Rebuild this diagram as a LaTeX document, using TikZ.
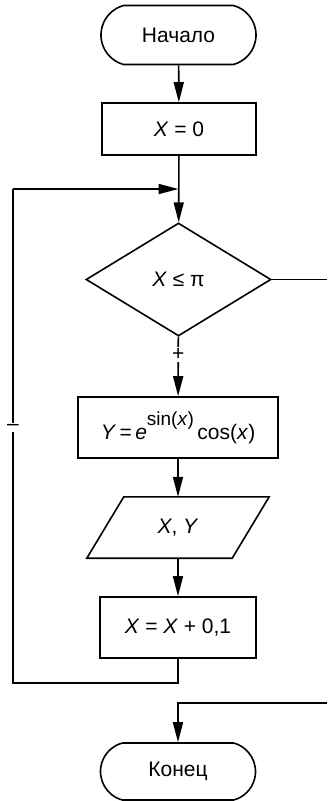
\documentclass[tikz,border=0pt]{standalone}
\usepackage{fontspec}
\setmainfont{Liberation Sans}
\usetikzlibrary{arrows.meta,shapes.geometric,shapes.misc,calc}
\begin{document}
\begin{tikzpicture}[x=1pt,y=-1pt,
  every node/.style={font=\fontsize{21}{25}\selectfont},
  line/.style={line width=1.6pt},
  arr/.style={line width=1.6pt, -{Triangle[length=20pt,width=10pt]}},
  term/.style={draw, line width=1.6pt, rounded rectangle, rounded rectangle arc length=150, minimum width=155pt, minimum height=59pt, inner sep=0pt},
  proc/.style={draw, line width=1.6pt, rectangle, inner sep=0pt},
  dec/.style={draw, line width=1.6pt, diamond, inner sep=0pt, minimum width=185pt, minimum height=113pt},
  lbl/.style={fill=white, inner sep=1.5pt}
]
\useasboundingbox (0,0) rectangle (327,801);

\node[term] (start) at (178.5,35) {Начало};
\node[proc, minimum width=154pt, minimum height=52pt] (x0) at (179,129) {\textit{X} = 0};
\node[dec] (cond) at (178.5,279.5) {\textit{X} ≤ π};
\node[proc, minimum width=200pt, minimum height=61pt] (ycalc) at (178,427.5)
  {\textit{Y}\,=\,\textit{e}\raisebox{14pt}{\fontsize{19}{22}\selectfont sin(\textit{x})}\,cos(\textit{x})};
\node[minimum width=145pt, minimum height=61pt, inner sep=0pt] (out) at (178,527.5) {\textit{X}, \textit{Y}};
\draw[line] ($(out.north west)+(18.5,0)$) -- ($(out.north east)+(18.5,0)$)
  -- ($(out.south east)+(-18.5,0)$) -- ($(out.south west)+(-18.5,0)$) -- cycle;
\node[proc, minimum width=156pt, minimum height=61pt] (inc) at (178,627.5) {\textit{X} = \textit{X} + 0,1};
\node[term, minimum height=57pt] (stop) at (178,771.5) {Конец};

\coordinate (join) at (178.5,189);
\coordinate (lb) at (178,683);
\coordinate (ll) at (13,683);
\coordinate (lt) at (13,189);
\coordinate (ro) at (327,279.5);
\coordinate (ri) at (327,703);
\coordinate (rj) at (178,703);

\draw[arr] (start) -- (x0);
\draw[arr] (x0) -- (cond);
\draw[arr] (cond) -- node[lbl, pos=0.3] {+} (ycalc);
\draw[arr] (ycalc) -- (out);
\draw[arr] (out) -- (inc);
\draw[line] (inc.south) -- (lb) -- (ll) -- node[lbl, pos=0.517] {–} (lt);
\draw[arr] (lt) -- (join);
\draw[line] (cond.east) -- (ro);
\draw[arr] (ri) -- (rj) -- (stop.north);
\end{tikzpicture}
\end{document}
